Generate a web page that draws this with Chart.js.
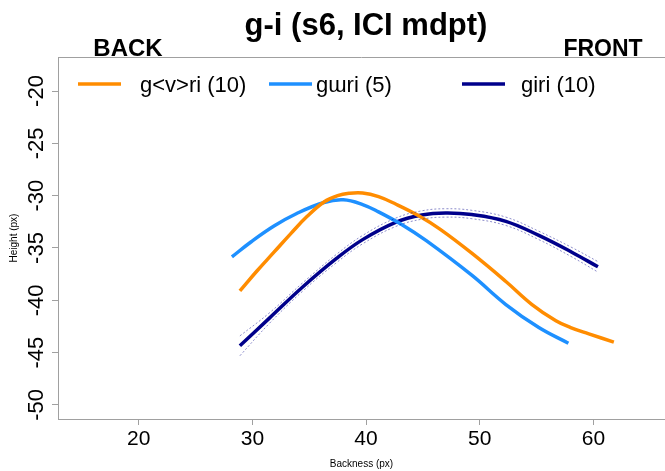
<!DOCTYPE html>
<html lang="en">
<head>
    <meta charset="UTF-8">
    <title>g-i (s6, ICI mdpt)</title>
    <script src="https://cdn.jsdelivr.net/npm/chart.js"></script>
    <style>
        body {
            margin: 0;
            background-color: #ffffff;
        }
        #wrap {
            width: 665px;
            height: 471px;
        }
    </style>
</head>
<body>

<div id="wrap">
    <canvas id="giChart" width="665" height="471"></canvas>
</div>

<script>
    // values
    const seriesNames = ['g<v>ri (10)', 'gɯri (5)', 'giri (10)'];
    const seriesColors = ['#FF8C00', '#1E90FF', '#00008B'];

    const gvriX = [28.9, 30.4, 31.9, 33.4, 34.8, 36.3, 37.5, 38.5, 39.7, 41.1, 42.6, 44.6, 46.5, 49.3, 52.3, 54.6, 56.7, 58.0, 59.6, 61.8];
    const gvriY = [-39.1, -37.2, -35.4, -33.6, -32.0, -30.6, -30.0, -29.78, -29.75, -30.1, -30.8, -31.9, -33.2, -35.5, -38.2, -40.4, -41.95, -42.6, -43.2, -44.0];

    const gwriX = [28.2, 29.9, 31.9, 33.9, 36.3, 38.0, 39.7, 41.1, 43.2, 45.3, 49.3, 52.3, 55.2, 57.8];
    const gwriY = [-35.85, -34.4, -32.9, -31.7, -30.65, -30.4, -30.85, -31.55, -32.8, -34.3, -37.6, -40.4, -42.6, -44.1];

    const giriX = [28.9, 31.5, 34.4, 37.4, 39.7, 42.6, 44.9, 47.0, 49.3, 52.3, 55.2, 58.1, 60.4];
    const giriY = [-44.35, -41.7, -38.75, -36.0, -34.2, -32.55, -31.85, -31.65, -31.8, -32.45, -33.8, -35.4, -36.8];
    // faint dotted band around giri
    const giriUpper = [-43.4, -41.2, -38.35, -35.6, -33.8, -32.15, -31.45, -31.25, -31.4, -32.05, -33.4, -34.95, -36.3];
    const giriLower = [-45.3, -42.2, -39.15, -36.4, -34.6, -32.95, -32.25, -32.05, -32.2, -32.85, -34.2, -35.85, -37.3];

    const xTicks = [20, 30, 40, 50, 60];
    const yTicks = [-20, -25, -30, -35, -40, -45, -50];

    const FONT = '"Liberation Sans", Arial, sans-serif';
    const AXIS_GREY = '#a0a0a0';

    function toPoints(xs, ys) {
        return xs.map((x, i) => ({ x: x, y: ys[i] }));
    }

    // title, BACK/FRONT, legend, rotated y labels, top border
    const decorations = {
        id: 'decorations',
        afterDraw(chart) {
            const ctx = chart.ctx;
            const area = chart.chartArea;
            const yScale = chart.scales.y;
            ctx.save();

            // top border
            ctx.strokeStyle = AXIS_GREY;
            ctx.lineWidth = 1;
            ctx.beginPath();
            ctx.moveTo(area.left, area.top + 0.5);
            ctx.lineTo(area.right, area.top + 0.5);
            ctx.stroke();

            ctx.fillStyle = '#000';
            ctx.textBaseline = 'alphabetic';
            ctx.textAlign = 'center';
            ctx.font = 'bold 31px ' + FONT;
            ctx.fillText('g-i (s6, ICI mdpt)', 366, 35);

            ctx.font = 'bold 24px ' + FONT;
            ctx.fillText('BACK', 128, 56);
            ctx.font = 'bold 23px ' + FONT;
            ctx.fillText('FRONT', 603, 56);

            // legend
            const legendX = [78, 269, 462];
            const textX = [140, 316, 521];
            ctx.font = '22px ' + FONT;
            ctx.textAlign = 'left';
            ctx.textBaseline = 'middle';
            seriesNames.forEach((name, i) => {
                ctx.strokeStyle = seriesColors[i];
                ctx.lineWidth = 3.5;
                ctx.beginPath();
                ctx.moveTo(legendX[i], 84);
                ctx.lineTo(legendX[i] + 43, 84);
                ctx.stroke();
                ctx.fillStyle = '#000';
                ctx.fillText(name, textX[i], 86);
            });

            // rotated y tick labels
            ctx.font = '22px ' + FONT;
            ctx.textAlign = 'center';
            ctx.textBaseline = 'alphabetic';
            yTicks.forEach(v => {
                const py = yScale.getPixelForValue(v);
                ctx.save();
                ctx.translate(43, py);
                ctx.rotate(-Math.PI / 2);
                ctx.fillText(String(v), 0, 0);
                ctx.restore();
            });

            ctx.restore();
        }
    };

    const bandStyle = {
        borderColor: 'rgba(0, 0, 139, 0.45)',
        borderWidth: 1,
        borderDash: [2, 2],
        pointRadius: 0,
        fill: false,
        tension: 0.4
    };

    const datasets = [
        Object.assign({ label: 'giri upper', data: toPoints(giriX, giriUpper) }, bandStyle),
        Object.assign({ label: 'giri lower', data: toPoints(giriX, giriLower) }, bandStyle)
    ].concat([
        [gvriX, gvriY],
        [gwriX, gwriY],
        [giriX, giriY]
    ].map((pair, i) => ({
        label: seriesNames[i],
        data: toPoints(pair[0], pair[1]),
        borderColor: seriesColors[i],
        borderWidth: 3.5,
        pointRadius: 0,
        fill: false,
        tension: 0.4
    })));

    new Chart(document.getElementById('giChart').getContext('2d'), {
        type: 'line',
        data: { datasets: datasets },
        options: {
            responsive: false,
            animation: false,
            layout: { padding: { top: 57, right: 0, left: 0, bottom: 0 } },
            plugins: {
                legend: { display: false },
                tooltip: { enabled: false }
            },
            scales: {
                x: {
                    type: 'linear',
                    min: 12.9,
                    max: 66.3,
                    afterFit: scale => { scale.height = 52; },
                    afterBuildTicks: scale => { scale.ticks = xTicks.map(v => ({ value: v })); },
                    border: { display: true, color: AXIS_GREY, width: 1 },
                    grid: { drawOnChartArea: false, drawTicks: true, tickLength: 6, color: AXIS_GREY },
                    ticks: {
                        color: '#000',
                        font: { family: FONT, size: 21 },
                        padding: 2,
                        maxRotation: 0
                    },
                    title: {
                        display: true,
                        text: 'Backness (px)',
                        color: '#000',
                        font: { family: FONT, size: 10 },
                        padding: { top: 0, bottom: 1 }
                    }
                },
                y: {
                    type: 'linear',
                    min: -51.34,
                    max: -16.75,
                    afterFit: scale => { scale.width = 58; },
                    afterBuildTicks: scale => { scale.ticks = yTicks.map(v => ({ value: v })); },
                    border: { display: true, color: AXIS_GREY, width: 1 },
                    grid: { drawOnChartArea: false, drawTicks: true, tickLength: 6, color: AXIS_GREY },
                    ticks: { display: false },
                    title: {
                        display: true,
                        text: 'Height (px)',
                        color: '#000',
                        font: { family: FONT, size: 10 },
                        padding: { top: 8, bottom: 0 }
                    }
                }
            }
        },
        plugins: [decorations]
    });
</script>

</body>
</html>
